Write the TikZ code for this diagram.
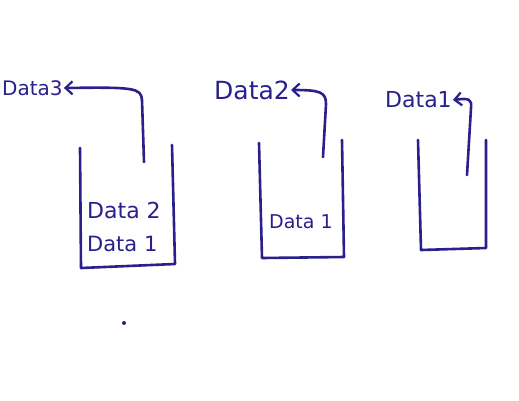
\documentclass[tikz,border=0pt]{standalone}
\usepackage{fontspec}
\setmainfont{DejaVu Sans}
\usetikzlibrary{arrows.meta}
\definecolor{ink}{RGB}{42,32,140}
\begin{document}
\begin{tikzpicture}[x=1pt,y=-1pt,
  pen/.style={draw=ink,line width=2.6pt,line cap=round,line join=round},
  lbl/.style={text=ink,inner sep=1pt,font=\fontsize{22}{24}\selectfont},
  item/.style={text=ink,inner sep=1pt,font=\fontsize{22}{24}\selectfont},
  tip/.style={-{Straight Barb[length=7pt,width=13pt,line width=2.2pt]}}]
\useasboundingbox[fill=white] (0,0) rectangle (519,400);
% stack 1
\coordinate (a1) at (80,148); \coordinate (b1) at (81,268);
\coordinate (c1) at (175,264); \coordinate (d1) at (172,145);
\draw[pen] (a1) -- (b1) -- (c1) -- (d1);
\node[item,anchor=west] (s1b) at (86,210) {Data 2};
\node[item,anchor=west,font=\fontsize{21}{23}\selectfont] (s1a) at (86,244) {Data 1};
\node[lbl,anchor=west,font=\fontsize{20}{22}\selectfont] (l3) at (1,88) {Data3};
\coordinate (p1) at (144,162);
\draw[pen,tip] (p1) -- (142,100) .. controls (141,88) and (135,87) .. (l3.east);
% stack 2
\coordinate (a2) at (259,143); \coordinate (b2) at (262,258);
\coordinate (c2) at (344,257); \coordinate (d2) at (342,140);
\draw[pen] (a2) -- (b2) -- (c2) -- (d2);
\node[item,anchor=west,font=\fontsize{19}{21}\selectfont] (s2a) at (268,222) {Data 1};
\node[lbl,anchor=west,font=\fontsize{25}{27}\selectfont] (l2) at (213,90) {Data2};
\coordinate (p2) at (323,157);
\draw[pen,tip] (p2) -- (326,104) .. controls (326,92) and (320,90) .. (l2.east);
% stack 3
\coordinate (a3) at (418,140); \coordinate (b3) at (421,250);
\coordinate (c3) at (486,248); \coordinate (d3) at (486,140);
\draw[pen] (a3) -- (b3) -- (c3) -- (d3);
\node[lbl,anchor=west] (l1) at (384,100) {Data1};
\coordinate (p3) at (467,175);
\draw[pen,tip] (p3) -- (471,108) .. controls (472,99) and (469,98) .. (l1.east);
% stray dot
\fill[ink] (124,323) circle (2pt);
\end{tikzpicture}
\end{document}
